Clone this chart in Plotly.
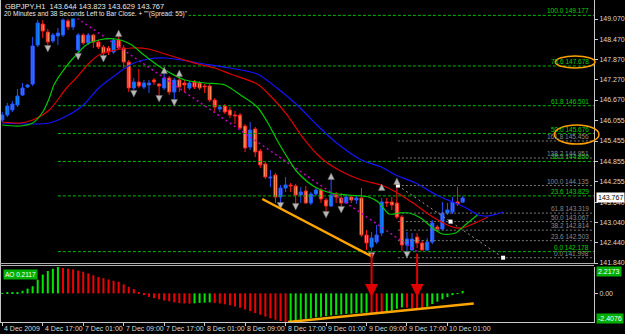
import plotly.graph_objects as go

# ---------------- data (GBPJPY H1) ----------------
opens = [146.077, 146.225, 146.374, 146.522, 146.818, 147.055, 147.144, 148.300, 148.922, 148.685,
         148.418, 148.566, 148.596, 149.011, 148.833, 148.152, 148.596, 148.359, 148.596, 148.389,
         148.240, 148.211, 148.092, 148.448, 148.211, 147.796, 147.026, 147.203, 147.055, 147.114,
         147.263, 147.144, 147.026, 147.322, 146.907, 147.263, 147.174, 147.026, 147.203, 147.174,
         147.085, 147.085, 146.670, 146.403, 146.492, 146.374, 146.225, 146.225, 145.900, 145.277,
         145.811, 145.159, 144.774, 144.359, 144.448, 143.796, 144.063, 144.152, 144.122, 143.855,
         143.974, 143.618, 143.885, 144.003, 143.707, 143.529, 143.855, 143.766, 143.618, 143.796,
         143.707, 143.766, 142.670, 142.314, 142.463, 142.729, 143.648, 143.648, 143.618, 143.204,
         142.374, 142.225, 142.611, 142.433, 142.225, 142.463, 142.907, 142.848, 143.322, 143.352,
         143.648, 143.644]
highs = [146.314, 146.581, 146.640, 146.996, 147.174, 147.144, 148.537, 149.040, 149.040, 148.774,
         148.655, 148.803, 149.129, 149.070, 149.177, 148.655, 148.655, 148.655, 148.626, 148.448,
         148.300, 148.270, 148.507, 148.566, 148.300, 147.855, 147.322, 147.589, 147.263, 147.263,
         147.322, 147.174, 147.470, 147.381, 147.322, 147.411, 147.263, 147.233, 147.263, 147.233,
         147.144, 147.144, 146.729, 146.522, 146.551, 146.463, 146.344, 146.285, 145.959, 146.018,
         145.870, 145.218, 144.833, 144.596, 144.507, 144.152, 144.389, 144.211, 144.181, 144.092,
         144.122, 143.944, 144.063, 144.063, 143.766, 144.330, 143.944, 143.915, 143.855, 143.855,
         143.826, 144.063, 142.818, 142.759, 142.966, 143.766, 143.766, 143.796, 144.211, 143.263,
         142.759, 142.729, 142.729, 142.522, 142.581, 143.115, 142.966, 143.648, 143.618, 143.796,
         144.092, 143.823]
lows = [146.018, 146.166, 146.314, 146.463, 146.788, 147.026, 147.085, 148.240, 148.507, 148.211,
        148.359, 148.300, 148.537, 148.744, 148.744, 148.003, 148.300, 148.300, 148.211, 148.181,
        147.944, 148.003, 148.033, 148.152, 147.618, 146.907, 146.907, 147.026, 146.996, 146.877,
        147.114, 146.759, 146.966, 146.818, 146.670, 146.907, 146.907, 146.966, 146.996, 146.966,
        146.877, 146.611, 146.314, 146.314, 146.255, 146.137, 145.959, 145.781, 145.129, 145.188,
        144.981, 144.655, 144.330, 144.092, 143.618, 143.500, 143.944, 143.944, 143.559, 143.618,
        143.589, 143.559, 143.826, 143.618, 143.322, 143.500, 143.618, 143.470, 143.589, 143.618,
        143.589, 142.611, 142.225, 142.178, 142.403, 142.640, 143.500, 143.411, 143.144, 142.200,
        142.185, 142.210, 142.285, 142.215, 142.200, 142.403, 142.788, 142.818, 143.263, 143.293,
        143.529, 143.629]
closes = [146.225, 146.492, 146.551, 146.788, 147.026, 147.114, 148.270, 148.952, 148.714, 148.389,
          148.596, 148.655, 149.040, 148.833, 149.129, 148.596, 148.359, 148.596, 148.389, 148.240,
          148.063, 148.092, 148.448, 148.211, 147.796, 147.026, 147.203, 147.085, 147.174, 147.174,
          147.203, 147.085, 147.322, 146.907, 147.263, 147.055, 147.114, 147.174, 147.055, 147.026,
          147.055, 146.670, 146.463, 146.463, 146.314, 146.225, 146.196, 145.840, 145.248, 145.781,
          145.129, 144.744, 144.389, 144.389, 143.796, 144.063, 144.152, 144.122, 143.855, 143.944,
          143.618, 143.885, 144.003, 143.737, 143.529, 143.855, 143.796, 143.618, 143.796, 143.707,
          143.766, 142.670, 142.433, 142.581, 142.670, 143.648, 143.618, 143.559, 143.204, 142.374,
          142.552, 142.552, 142.433, 142.225, 142.463, 143.026, 142.848, 143.322, 143.411, 143.648,
          143.589, 143.767]

ao_values = [0.02, 0.05, 0.08, 0.12, 0.22, 0.40, 0.60, 1.15, 1.58, 1.88,
             2.07, 2.2173, 2.13, 2.07, 2.02, 1.91, 1.82, 1.67, 1.52, 1.37,
             1.28, 1.16, 1.06, 0.97, 0.76, 0.55, 0.36, 0.06, -0.15, -0.30,
             -0.40, -0.50, -0.60, -0.67, -0.75, -0.82, -0.85, -0.87, -0.84, -0.80,
             -0.78, -0.76, -0.80, -0.85, -0.92, -1.00, -1.10, -1.20, -1.35, -1.50,
             -1.65, -1.80, -1.95, -2.10, -2.22, -2.33, -2.4076, -2.33, -2.26, -2.20,
             -2.14, -2.08, -2.02, -1.97, -1.92, -1.86, -1.81, -1.77, -1.73, -1.70,
             -1.67, -1.64, -1.62, -1.68, -1.72, -1.73, -1.60, -1.45, -1.30, -1.18,
             -1.21, -1.25, -1.28, -1.30, -1.12, -0.90, -0.70, -0.50, -0.32, -0.15,
             0.02, 0.2117]

# Alligator lines (bar index, price)
jaw_x = [0.0, 6.0, 9.3, 12.7, 15.8, 19.1, 22.4, 25.6, 28.9, 32.2, 35.4, 38.7, 45.1, 50.4, 54.3,
         58.3, 62.2, 66.1, 71.0, 74.9, 77.8, 81.7, 86.2, 89.6, 92.1, 94.1, 96.0, 99.0]
jaw_y = [145.988, 145.959, 145.988, 146.196, 146.492, 147.026, 147.411, 147.737, 147.885, 147.914,
         147.855, 147.766, 147.618, 147.440, 147.026, 146.522, 145.929, 145.396, 144.892, 144.685,
         144.448, 144.211, 143.826, 143.618, 143.440, 143.263, 143.233, 143.351]
teeth_x = [0.0, 3.5, 6.0, 9.3, 12.7, 14.6, 17.2, 19.1, 22.4, 25.6, 28.9, 32.2, 35.4, 38.7, 42.0,
           45.1, 50.4, 53.4, 56.3, 59.2, 62.8, 66.5, 71.0, 74.9, 77.8, 81.2, 85.1, 89.0, 90.9, 93.5, 96.0]
teeth_y = [146.018, 145.988, 146.077, 146.374, 147.026, 147.322, 147.766, 148.003, 148.152, 148.211,
           148.181, 148.033, 147.885, 147.737, 147.618, 147.440, 147.144, 146.729, 146.226, 145.603,
           144.981, 144.596, 144.300, 144.151, 143.944, 143.618, 143.203, 142.907, 142.877, 143.026,
           143.203]
lips_x = [0.0, 3.5, 6.0, 8.0, 9.3, 10.3, 12.7, 14.6, 16.6, 19.1, 22.4, 25.6, 27.5, 29.3, 30.9,
          33.2, 36.1, 40.1, 44.0, 47.1, 50.4, 52.4, 54.3, 56.3, 58.3, 61.8, 65.1, 68.4, 72.4, 74.3,
          76.5, 78.4, 80.4, 82.7, 85.1, 87.0, 89.6, 91.5, 93.9]
lips_y = [145.929, 145.900, 145.988, 146.314, 146.729, 147.144, 147.677, 148.003, 148.300, 148.448,
          148.477, 148.300, 148.063, 147.855, 147.677, 147.470, 147.263, 147.174, 147.114, 146.818,
          146.463, 146.018, 145.485, 144.981, 144.537, 144.092, 143.914, 143.855, 143.796, 143.648,
          143.292, 143.322, 143.322, 143.174, 142.877, 142.700, 142.729, 142.966, 143.263]

frac_up_bars = [14, 23, 32, 35, 65, 75, 78]
frac_up_price = [149.396, 148.744, 147.648, 147.559, 144.507, 144.181, 144.359]
frac_dn_bars = [9, 15, 20, 26, 31, 34, 55, 58, 64, 67, 73, 80]
frac_dn_price = [148.092, 147.855, 147.796, 146.759, 146.611, 146.492, 143.440, 143.411, 143.174,
                 143.322, 141.959, 141.988]

fib_main_levels = [100.0, 78.6, 61.8, 50.0, 38.2, 23.6, 0.0]
fib_main_prices = [149.177, 147.678, 146.501, 145.676, 144.850, 143.829, 142.178]
fib_main_start_bar = 11
fib_main_diag_bars = [14, 82]
fib_main_diag_prices = [149.177, 142.178]

fib_sub_levels = [161.8, 138.2, 100.0, 61.8, 50.0, 38.2, 23.6, 0.0]
fib_sub_prices = [145.456, 144.951, 144.135, 143.319, 143.067, 142.814, 142.503, 141.998]
fib_sub_diag_bars = [78.2, 88.6, 99.0]
fib_sub_diag_prices = [144.135, 143.067, 141.998]

trend_price_bars = [51.4, 72.9]
trend_price_vals = [143.737, 142.048]
trend_ao_bars = [56.5, 93.2]
trend_ao_vals = [-2.41, -0.85]

arrow_bars = [73, 82]
arrow_ao_tip = [-0.30, -0.30]

tick_bars = [0, 8, 16, 24, 32, 40, 48, 56, 64, 72, 80, 88]
tick_labels = ["4 Dec 2009", "4 Dec 17:00", "7 Dec 01:00", "7 Dec 09:00", "7 Dec 17:00",
               "8 Dec 01:00", "8 Dec 09:00", "8 Dec 17:00", "9 Dec 01:00", "9 Dec 09:00",
               "9 Dec 17:00", "10 Dec 01:00"]
price_ticks = [149.070, 148.470, 147.870, 147.270, 146.670, 146.055, 145.455, 144.855,
               144.255, 143.640, 143.040, 142.440, 141.840]
last_price = 143.767
ao_max, ao_min = 2.2173, -2.4076
ao_current = 0.2117

# ---------------- geometry ----------------
W, H = 625, 334
PW, PH = 600, 322          # plot area (px)
BAR_PX, X0 = 5.11, 2.3     # bar spacing / first bar offset (px)
XMIN = -X0 / BAR_PX
XMAX = (PW - X0) / BAR_PX
PRICE_TOP, PRICE_BOT = 149.633, 141.811
MAIN_BOTTOM_PX, AO_TOP_PX = 264, 267
FONT = "Liberation Sans"


def px_x(px):
    return px / PW


def px_y(py):
    return 1 - py / PH


fig = go.Figure()

# ---- candles ----
bull = [i for i in range(len(opens)) if closes[i] >= opens[i]]
bear = [i for i in range(len(opens)) if closes[i] < opens[i]]


def wick_xy(idx):
    xs, ys = [], []
    for i in idx:
        xs += [i, i, None]
        ys += [lows[i], highs[i], None]
    return xs, ys


for idx, col in ((bull, "#2a52ff"), (bear, "#ff1a1a")):
    wx, wy = wick_xy(idx)
    fig.add_trace(go.Scatter(x=wx, y=wy, mode="lines", line=dict(color=col, width=1),
                             hoverinfo="skip", xaxis="x", yaxis="y"))

MIN_BODY = 0.03
for idx, fill, edge in ((bull, "#00a6ff", "#2a52ff"), (bear, "#ffd37c", "#ff1a1a")):
    fig.add_trace(go.Bar(
        x=idx,
        y=[max(abs(closes[i] - opens[i]), MIN_BODY) for i in idx],
        base=[min(opens[i], closes[i]) for i in idx],
        width=0.62, marker=dict(color=fill, line=dict(color=edge, width=1)),
        xaxis="x", yaxis="y", hoverinfo="skip"))

# ---- fibonacci (green) ----
for lvl, p in zip(fib_main_levels, fib_main_prices):
    fig.add_trace(go.Scatter(x=[fib_main_start_bar, XMAX], y=[p, p], mode="lines",
                             line=dict(color="#00b800", width=1, dash="3px,2px"),
                             xaxis="x", yaxis="y", hoverinfo="skip"))
# ---- fibonacci (gray) ----
for lvl, p in zip(fib_sub_levels, fib_sub_prices):
    fig.add_trace(go.Scatter(x=[fib_sub_diag_bars[0], XMAX], y=[p, p], mode="lines",
                             line=dict(color="#7a7a7a", width=1, dash="2px,2px"),
                             xaxis="x", yaxis="y", hoverinfo="skip"))

fig.add_trace(go.Scatter(x=fib_main_diag_bars, y=fib_main_diag_prices, mode="lines",
                         line=dict(color="#c000c0", width=1.5, dash="2px,3px"),
                         xaxis="x", yaxis="y", hoverinfo="skip"))
fig.add_trace(go.Scatter(x=[fib_sub_diag_bars[0], fib_sub_diag_bars[-1]],
                         y=[fib_sub_diag_prices[0], fib_sub_diag_prices[-1]], mode="lines",
                         line=dict(color="#9a9a9a", width=1, dash="2px,3px"),
                         xaxis="x", yaxis="y", hoverinfo="skip"))
fig.add_trace(go.Scatter(x=fib_sub_diag_bars, y=fib_sub_diag_prices, mode="markers",
                         marker=dict(symbol="square", size=4, color="#ffffff"),
                         xaxis="x", yaxis="y", hoverinfo="skip"))

# ---- alligator ----
for xs, ys, col in ((jaw_x, jaw_y, "#1414ff"), (teeth_x, teeth_y, "#e00000"),
                    (lips_x, lips_y, "#00c800")):
    fig.add_trace(go.Scatter(x=xs, y=ys, mode="lines",
                             line=dict(color=col, width=1.2, shape="spline", smoothing=0.8),
                             xaxis="x", yaxis="y", hoverinfo="skip"))

# ---- fractals ----
fig.add_trace(go.Scatter(x=frac_up_bars, y=frac_up_price, mode="markers",
                         marker=dict(symbol="arrow-up", size=6.5, color="#b8b8b8",
                                     line=dict(color="#707070", width=0.5)),
                         xaxis="x", yaxis="y", hoverinfo="skip"))
fig.add_trace(go.Scatter(x=frac_dn_bars, y=frac_dn_price, mode="markers",
                         marker=dict(symbol="arrow-down", size=6.5, color="#b8b8b8",
                                     line=dict(color="#707070", width=0.5)),
                         xaxis="x", yaxis="y", hoverinfo="skip"))

# ---- trend line on price ----
fig.add_trace(go.Scatter(x=trend_price_bars, y=trend_price_vals, mode="lines",
                         line=dict(color="#ffa500", width=2.5), xaxis="x", yaxis="y",
                         hoverinfo="skip"))

# ---- AO histogram ----
ao_colors = ["#00e600" if (i == 0 or ao_values[i] >= ao_values[i - 1]) else "#f00000"
             for i in range(len(ao_values))]
fig.add_trace(go.Bar(x=list(range(len(ao_values))), y=ao_values, width=0.4,
                     marker=dict(color=ao_colors, line=dict(width=0)),
                     xaxis="x2", yaxis="y2", hoverinfo="skip"))
fig.add_trace(go.Scatter(x=trend_ao_bars, y=trend_ao_vals, mode="lines",
                         line=dict(color="#ffa500", width=2.5), xaxis="x2", yaxis="y2",
                         hoverinfo="skip"))

# ---------------- annotations ----------------
ann = []
ann.append(dict(x=px_x(3), y=px_y(6), xref="paper", yref="paper", xanchor="left",
                yanchor="middle", showarrow=False,
                text="GBPJPY,H1  143.644 143.823 143.629 143.767",
                font=dict(family=FONT, size=7.5, color="#e8e8e8")))
ann.append(dict(x=px_x(3), y=px_y(14.5), xref="paper", yref="paper", xanchor="left",
                yanchor="middle", showarrow=False, bgcolor="#000000", borderpad=0,
                text='20 Minutes and 38 Seconds Left to Bar Close. + ""(Spread: 55)"',
                font=dict(family=FONT, size=6.5, color="#e8e8e8")))

for lvl, p in zip(fib_main_levels, fib_main_prices):
    ann.append(dict(x=px_x(597), y=p, xref="paper", yref="y", xanchor="right",
                    yanchor="bottom", showarrow=False, yshift=-1,
                    text=f"{lvl:.1f} {p:.3f}",
                    font=dict(family=FONT, size=6.5, color="#00d000")))
for lvl, p in zip(fib_sub_levels, fib_sub_prices):
    ann.append(dict(x=px_x(597), y=p, xref="paper", yref="y", xanchor="right",
                    yanchor="bottom", showarrow=False, yshift=-1,
                    text=f"{lvl:.1f} {p:.3f}",
                    font=dict(family=FONT, size=6.5, color="#8a8a8a")))

# AO label
ann.append(dict(x=px_x(3), y=px_y(274), xref="paper", yref="paper", xanchor="left",
                yanchor="middle", showarrow=False, text=f"AO {ao_current:.4f}",
                bgcolor="#00b000", borderpad=1,
                font=dict(family=FONT, size=6.5, color="#ffffff")))
# right-side value boxes
ann.append(dict(x=1, y=last_price, xref="paper", yref="y", xanchor="left", yanchor="middle",
                xshift=2, showarrow=False, text=f"{last_price:.3f}", bgcolor="#ffffff",
                borderpad=1, font=dict(family=FONT, size=7, color="#000000")))
ann.append(dict(x=1, y=px_y(271.5), xref="paper", yref="paper", xanchor="left",
                yanchor="middle", xshift=2, showarrow=False, text=f"{ao_max:.4f}",
                bgcolor="#00b000", borderpad=1, font=dict(family=FONT, size=7, color="#ffffff")))
ann.append(dict(x=1, y=px_y(318.5), xref="paper", yref="paper", xanchor="left",
                yanchor="middle", xshift=2, showarrow=False, text=f"{ao_min:.4f}",
                bgcolor="#00b000", borderpad=1, font=dict(family=FONT, size=7, color="#ffffff")))

# red arrows into AO window
for b, tip in zip(arrow_bars, arrow_ao_tip):
    ann.append(dict(x=b, y=tip, xref="x2", yref="y2", ax=0, ay=-45, text="",
                    showarrow=True, arrowhead=2, arrowsize=1.3, arrowwidth=2,
                    arrowcolor="#e00000"))

# time labels (left-aligned at tick like MT4)
for b, lab in zip(tick_bars, tick_labels):
    ann.append(dict(x=b, y=px_y(328), xref="x2", yref="paper", xanchor="left",
                    yanchor="middle", showarrow=False, text=lab, xshift=0,
                    font=dict(family=FONT, size=7, color="#d8d8d8")))

# ---------------- shapes ----------------
shapes = [
    dict(type="circle", xref="paper", yref="paper", x0=px_x(561), x1=px_x(601),
         y0=px_y(68), y1=px_y(56), line=dict(color="#ffa000", width=1.5)),
    dict(type="circle", xref="paper", yref="paper", x0=px_x(560), x1=px_x(605),
         y0=px_y(144), y1=px_y(125), line=dict(color="#ffa000", width=1.5)),
    dict(type="line", xref="paper", yref="paper", x0=px_x(0.5), x1=px_x(0.5),
         y0=px_y(0), y1=px_y(PH), line=dict(color="#c8c8c8", width=1)),
    dict(type="line", xref="paper", yref="paper", x0=0, x1=1,
         y0=px_y(MAIN_BOTTOM_PX - 0.5), y1=px_y(MAIN_BOTTOM_PX - 0.5),
         line=dict(color="#b0b0b0", width=1)),
    dict(type="line", xref="paper", yref="paper", x0=0, x1=1,
         y0=px_y(AO_TOP_PX - 1.5), y1=px_y(AO_TOP_PX - 1.5),
         line=dict(color="#b0b0b0", width=1)),
]

axis_common = dict(showgrid=False, zeroline=False)
fig.update_layout(
    width=W, height=H, autosize=False,
    margin=dict(l=0, r=W - PW, t=0, b=H - PH, pad=0),
    paper_bgcolor="#000000", plot_bgcolor="#000000",
    showlegend=False, barmode="overlay", hovermode=False,
    xaxis=dict(domain=[0, 1], anchor="y", range=[XMIN, XMAX], showticklabels=False,
               ticks="", **axis_common),
    xaxis2=dict(domain=[0, 1], anchor="y2", matches="x", range=[XMIN, XMAX],
                tickmode="array", tickvals=tick_bars, showticklabels=False,
                ticks="outside", ticklen=3, tickcolor="#c8c8c8",
                showline=True, linecolor="#c8c8c8", linewidth=1, **axis_common),
    yaxis=dict(domain=[px_y(MAIN_BOTTOM_PX), 1], anchor="x", side="right",
               range=[PRICE_BOT, PRICE_TOP], tickmode="array", tickvals=price_ticks,
               ticktext=[f"{v:.3f}" for v in price_ticks], ticks="outside", ticklen=3,
               tickcolor="#c8c8c8", showline=True, linecolor="#c8c8c8", linewidth=1,
               tickfont=dict(family=FONT, size=7, color="#d8d8d8"), **axis_common),
    yaxis2=dict(domain=[0, px_y(AO_TOP_PX)], anchor="x2", side="right",
                range=[ao_min, ao_max], tickmode="array", tickvals=[0], ticktext=["0.00"],
                ticks="outside", ticklen=3, tickcolor="#c8c8c8", showline=True,
                linecolor="#c8c8c8", linewidth=1,
                tickfont=dict(family=FONT, size=7, color="#d8d8d8"), **axis_common),
    annotations=ann, shapes=shapes,
)

fig.write_html("out.html", include_plotlyjs=True, config={"displayModeBar": False})
